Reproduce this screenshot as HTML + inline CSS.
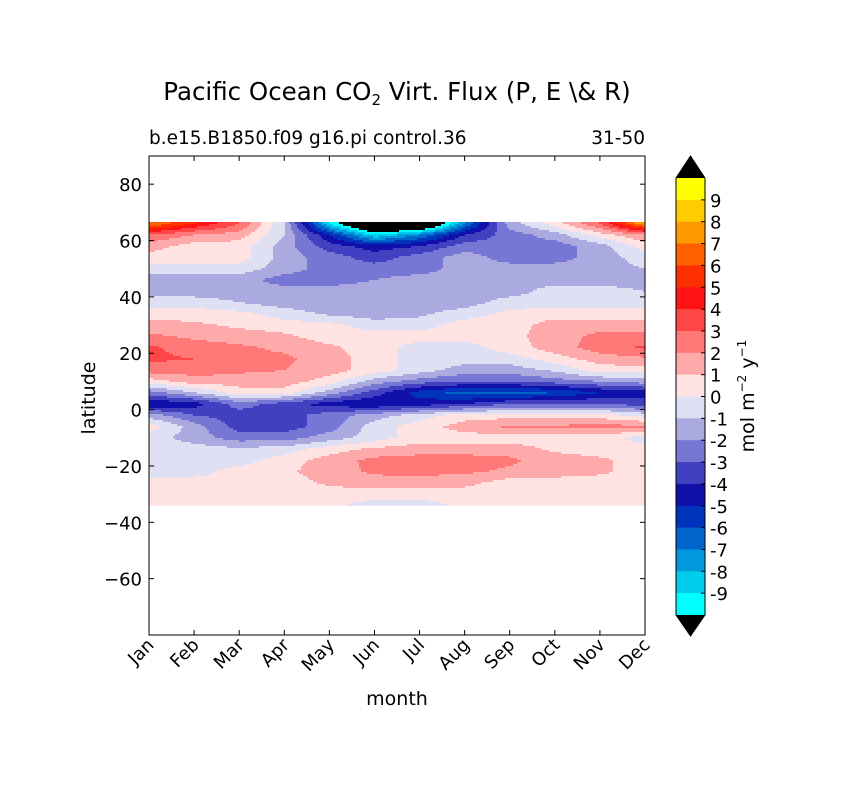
<!DOCTYPE html>
<html><head><meta charset="utf-8"><style>
body{margin:0;background:#fff;}
svg text{font-family:"DejaVu Sans","Liberation Sans",sans-serif;fill:#000;}
</style></head><body>
<svg id="svg" width="841" height="788" xmlns="http://www.w3.org/2000/svg">
<rect width="841" height="788" fill="#fff"/>
<text x="397" y="100" font-size="24.5" text-anchor="middle">Pacific Ocean CO<tspan font-size="15" dy="5">2</tspan><tspan dy="-5"> Virt. Flux (P, E \&amp; R)</tspan></text>
<text x="149" y="144" font-size="18.5">b.e15.B1850.f09 g16.pi control.36</text>
<text x="645" y="144" font-size="18.5" text-anchor="end">31-50</text>
<g id="field"></g>
<g id="axes"></g>
<g id="cbar"></g>
<text x="397" y="705" font-size="19" text-anchor="middle">month</text>
<text transform="translate(95,398) rotate(-90)" font-size="19" text-anchor="middle">latitude</text>
<text transform="translate(754,396) rotate(-90)" font-size="19" text-anchor="middle">mol m<tspan font-size="12" dy="-8">−2</tspan><tspan dy="8">  y</tspan><tspan font-size="12" dy="-8">−1</tspan></text>
</svg>
<script>
const months=["Jan","Feb","Mar","Apr","May","Jun","Jul","Aug","Sep","Oct","Nov","Dec"];
const lats=[66,62,58,54,50,46,42,38,34,30,26,22,18,14,10,6,2,-2,-6,-10,-14,-18,-22,-26,-30,-34];
const yTicks=[80,60,40,20,0,-20,-40,-60];
const levelLabels=[9,8,7,6,5,4,3,2,1,0,-1,-2,-3,-4,-5,-6,-7,-8,-9];
const levelColors=["#ffff00","#ffcc00","#ff9900","#ff6000","#ff3000","#ff1414","#ff4646","#ff7878","#ffaaaa","#ffe2e2","#e0e0f4","#aaaae0","#7676d4","#4040c0","#1010aa","#0033bb","#0066cc","#0099dd","#00ccee","#00ffff"];
const flux=[
[7,5,3,-1,-9,-14,-14,-7,-1.5,0.5,3,8],
[3,2,1.5,-1,-5,-9,-7,-4,-2.5,-1.5,0.5,2],
[1.5,0.5,0.5,-1.5,-3.5,-4.5,-4,-2.5,-2.5,-2.5,-1.5,0.5],
[0.5,0.5,0.5,-1.5,-2.5,-3.5,-2.5,-1.5,-2.5,-2.5,-1.5,-0.5],
[-0.5,-0.5,-0.5,-1.5,-2.5,-2.5,-2.5,-1.5,-1.5,-1.5,-1.5,-1],
[-1.5,-1.5,-1.5,-2.5,-2.5,-2,-1.5,-1.5,-1.5,-1.5,-1.5,-1.5],
[-1.5,-1.5,-1.5,-1.5,-1.5,-1.5,-1.5,-1.5,-1.5,-0.5,-0.5,-1],
[-0.5,-0.5,-1,-1.5,-1.5,-1.5,-1.5,-1.5,-0.5,-0.5,-0.5,-0.5],
[0.5,0.5,0.3,-0.5,-1.2,-1.5,-1.2,-0.5,0.3,0.5,0.5,0.5],
[1.5,1.2,0.8,0.5,0.3,-0.5,-0.5,0.5,0.5,1.5,1.5,1.5],
[2.2,1.8,1.5,1.2,0.5,0.5,0.5,0.5,0.7,1.5,2.3,2.3],
[3.2,2.5,2.2,1.8,1.2,0.5,-0.5,-0.5,0.5,1.5,2.5,3.2],
[3.2,3,2.2,2.2,1.5,0.5,-0.5,-0.5,-0.5,0.5,1.5,1.8],
[2.5,2.5,2.2,2,1.5,0.5,-0.5,-1.5,-1.5,-0.8,0.5,0.5],
[0.5,1.5,1.5,1.5,0.5,-1.5,-2.5,-3,-3,-2.5,-2,-1.5],
[-2.5,-1,0.5,0.5,-1.5,-3.5,-5.5,-6.5,-6.5,-6,-5,-4.5],
[-5,-4.5,-2.5,-3.5,-4.5,-5,-4.5,-4,-3,-3,-3,-3.5],
[-1.5,-3,-3.5,-3.5,-2.5,-1.5,-0.5,0.5,0.5,0.5,0.5,-0.5],
[0.5,-1.5,-3.5,-3.5,-2.5,-0.5,0.5,1.5,2.2,2.2,2.3,2.3],
[-0.5,-1.5,-2.5,-2.5,-1.5,-0.5,0.5,0.5,0.5,0.5,0.5,-0.5],
[-0.5,-0.5,-0.8,-0.5,0.5,1.2,1.5,1.5,1.5,0.8,0.5,0.5],
[-0.5,-0.5,-0.5,0.5,1.5,2.3,2.5,2.5,2.2,1.5,1.2,0.5],
[-0.5,-0.5,0.5,0.8,1.5,2.2,2.3,2.2,1.8,1.5,1.2,0.5],
[0.5,0.5,0.5,0.5,1.2,1.5,1.5,1.3,0.5,0.5,0.5,0.5],
[0.5,0.5,0.5,0.5,0.5,0.5,0.5,0.5,0.5,0.5,0.5,0.5],
[0.5,0.5,0.5,0.5,0.3,-0.5,-0.5,0.3,0.5,0.5,0.5,0.5]];
const X0=149,X1=645,Y0=156,Y1=635,LATMAX=90,LATMIN=-80;
const xs=m=>X0+m*(X1-X0)/11;
const ys=l=>Y0+(LATMAX-l)*(Y1-Y0)/(LATMAX-LATMIN);
function colorFor(v){
  if(v>=10||v<-10)return "#000";
  const i=Math.floor(10-v);return levelColors[Math.max(0,Math.min(19,i))];
}
const NS="http://www.w3.org/2000/svg";
function mk(tag,attrs,parent){const e=document.createElementNS(NS,tag);for(const k in attrs)e.setAttribute(k,attrs[k]);parent.appendChild(e);return e;}
function valueAt(px,py){
  const lat=LATMAX-(py-Y0)*(LATMAX-LATMIN)/(Y1-Y0);
  let r=(lats[0]-lat)/4;r=Math.max(0,Math.min(lats.length-1.0001,r));
  const r0=Math.floor(r),fr=r-r0;
  let m=(px-X0)/((X1-X0)/11);m=Math.max(0,Math.min(10.9999,m));
  const m0=Math.floor(m),fm=m-m0;
  const a=flux[r0][m0],b=flux[r0][m0+1],c=flux[r0+1][m0],d=flux[r0+1][m0+1];
  return (a*(1-fm)+b*fm)*(1-fr)+(c*(1-fm)+d*fm)*fr;
}
const fieldG=document.getElementById('field');
const fTop=Math.floor(ys(lats[0]+0.5)),fBot=ys(lats[lats.length-1]);
const step=2;
for(let py=fTop;py<fBot;py+=step){
  let runStart=X0,runCol=null;
  for(let px=X0;px<=X1;px+=step){
    const col=px<X1?colorFor(valueAt(px+step/2,py+step/2)):null;
    if(col!==runCol){
      if(runCol!==null){
        const r=mk('rect',{x:runStart,y:py,width:px-runStart,height:Math.min(step,fBot-py)+0.4,fill:runCol},fieldG);
        
        
      }
      runStart=px;runCol=col;
    }
  }
}
const ax=document.getElementById('axes');
const frame=mk('rect',{x:X0,y:Y0,width:X1-X0,height:Y1-Y0,fill:'none',stroke:'#000','stroke-width':1},ax);


yTicks.forEach(t=>{
  const y=ys(t);
  mk('line',{x1:X0,x2:X0+5,y1:y,y2:y,stroke:'#000'},ax);
  mk('line',{x1:X1,x2:X1-5,y1:y,y2:y,stroke:'#000'},ax);
  const tx=mk('text',{x:X0-7,y:y+7,'font-size':18,'text-anchor':'end'},ax);
  tx.textContent=t<0?'−'+(-t):t;
  
  
});
months.forEach((mo,i)=>{
  const x=xs(i);
  mk('line',{x1:x,x2:x,y1:Y1,y2:Y1-5,stroke:'#000'},ax);
  mk('line',{x1:x,x2:x,y1:Y0,y2:Y0+5,stroke:'#000'},ax);
  const tx=mk('text',{transform:`translate(${x+6},${Y1+11}) rotate(-45)`,'font-size':18,'text-anchor':'end'},ax);
  tx.textContent=mo;
  
  
});
const cb=document.getElementById('cbar');
const CX=676,CW=29,CT=178,CB=615,seg=(CB-CT)/20;
levelColors.forEach((c,i)=>{
  const r=mk('rect',{x:CX,y:CT+i*seg,width:CW,height:seg+0.5,fill:c},cb);
  
  
});
const t1=mk('polygon',{points:`${CX},${CT} ${CX+CW},${CT} ${CX+CW/2},${CT-22}`,fill:'#000'},cb);


const t2=mk('polygon',{points:`${CX},${CB} ${CX+CW},${CB} ${CX+CW/2},${CB+21}`,fill:'#000'},cb);


mk('polygon',{points:`${CX},${CT} ${CX+CW/2},${CT-22} ${CX+CW},${CT} ${CX+CW},${CB} ${CX+CW/2},${CB+21} ${CX},${CB}`,fill:'none',stroke:'#000'},cb);
levelLabels.forEach((l,i)=>{
  const y=CT+(i+1)*seg;
  mk('line',{x1:CX+CW-4,x2:CX+CW,y1:y,y2:y,stroke:'#000'},cb);
  const tx=mk('text',{x:CX+CW+5,y:y+7,'font-size':18},cb);
  tx.textContent=l;
  
  
});
</script>
</body></html>
